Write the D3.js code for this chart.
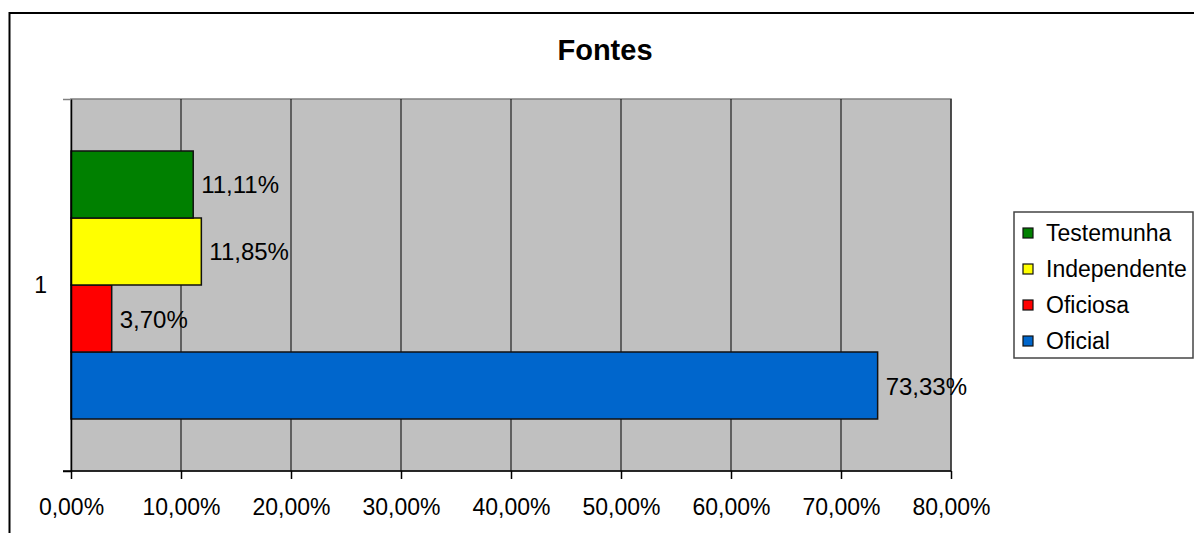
<!DOCTYPE html>
<html>
<head>
<meta charset="utf-8">
<script src="https://cdn.jsdelivr.net/npm/d3@7"></script>
<style>
  html, body { margin: 0; padding: 0; background: #fff; }
  svg { display: block; font-family: "Liberation Sans", Arial, sans-serif; }
</style>
</head>
<body>
<svg id="chart" width="1194" height="533"></svg>
<script>
// ---- data ----
const title = "Fontes";
const categories = ["1"];
const seriesNames = ["Oficial", "Oficiosa", "Independente", "Testemunha"];
const seriesValues = [0.7333, 0.0370, 0.1185, 0.1111];
const seriesColors = ["#0066CC", "#FF0000", "#FFFF00", "#008000"];
const xTicks = [0, 0.1, 0.2, 0.3, 0.4, 0.5, 0.6, 0.7, 0.8];

const locale = d3.formatLocale({decimal: ",", thousands: ".", grouping: [3], currency: ["", ""]});
const fmt = locale.format(".2%");

const svg = d3.select("#chart");

// chart border
svg.append("rect").attr("x", 9.5).attr("y", 13).attr("width", 1250).attr("height", 600)
  .attr("fill", "#fff").attr("stroke", "#000").attr("stroke-width", 2);

const plot = {left: 71, right: 951, top: 99, bottom: 471};

const x = d3.scaleLinear().domain([0, 0.8]).range([plot.left, plot.right]);
const y = d3.scaleBand().domain(categories).range([plot.top, plot.bottom]).paddingInner(0).paddingOuter(0.194);
// series within category: first series at bottom
const ys = d3.scaleBand().domain(seriesNames.slice().reverse()).range([0, y.bandwidth()]).padding(0);

// plot area
svg.append("rect").attr("x", plot.left).attr("y", plot.top)
  .attr("width", plot.right - plot.left).attr("height", plot.bottom - plot.top)
  .attr("fill", "#C0C0C0").attr("stroke", "#808080").attr("stroke-width", 1.5);

// gridlines
svg.append("g").selectAll("line").data(xTicks.filter(t => t > 0)).join("line")
  .attr("x1", d => x(d)).attr("x2", d => x(d))
  .attr("y1", plot.top).attr("y2", plot.bottom)
  .attr("stroke", "#000").attr("stroke-width", 1);

// bars
const cat = categories[0];
svg.append("g").selectAll("rect").data(seriesNames).join("rect")
  .attr("x", x(0))
  .attr("y", d => y(cat) + ys(d))
  .attr("width", (d, i) => x(seriesValues[i]) - x(0))
  .attr("height", ys.bandwidth())
  .attr("fill", (d, i) => seriesColors[i])
  .attr("stroke", "#111").attr("stroke-width", 1.5);

// value labels
svg.append("g").selectAll("text").data(seriesNames).join("text")
  .attr("x", (d, i) => x(seriesValues[i]) + 8)
  .attr("y", d => y(cat) + ys(d) + ys.bandwidth() / 2 + 9)
  .attr("font-size", 24).attr("fill", "#000")
  .text((d, i) => fmt(seriesValues[i]));

// x axis
const xAxis = d3.axisBottom(x).tickValues(xTicks).tickFormat(fmt).tickSize(8).tickPadding(20);
const gx = svg.append("g").attr("transform", `translate(0,${plot.bottom})`).call(xAxis);
gx.select(".domain").attr("stroke", "#000").attr("stroke-width", 1.5).attr("d", `M${plot.left - 8},0H${plot.right}`);
gx.selectAll(".tick line").attr("stroke", "#000").attr("stroke-width", 1.5);
gx.selectAll(".tick text").attr("font-size", 23).attr("font-family", "Liberation Sans, Arial, sans-serif").attr("fill", "#000");

// y axis
const yAxisScale = d3.scaleLinear().domain([0, 1]).range([plot.bottom, plot.top]);
const gy = svg.append("g").attr("transform", `translate(${plot.left},0)`)
  .call(d3.axisLeft(yAxisScale).tickValues([0, 1]).tickFormat("").tickSize(8).tickSizeOuter(0));
gy.select(".domain").attr("stroke", "#000").attr("stroke-width", 1.5);
gy.selectAll(".tick line").attr("stroke", "#000").attr("stroke-width", 1.5);
gy.selectAll(".tick").filter(d => d === 1).select("line").attr("stroke", "#808080");

svg.append("text").attr("x", 47).attr("y", y(cat) + y.bandwidth() / 2 + 8)
  .attr("text-anchor", "end").attr("font-size", 23).attr("fill", "#000").text(cat);

// title
svg.append("text").attr("x", 605).attr("y", 60).attr("text-anchor", "middle")
  .attr("font-size", 29).attr("font-weight", "bold").attr("fill", "#000").text(title);

// legend
const legend = svg.append("g");
legend.append("rect").attr("x", 1014).attr("y", 212).attr("width", 179).attr("height", 146)
  .attr("fill", "#fff").attr("stroke", "#444").attr("stroke-width", 1.5);
const legendOrder = seriesNames.slice().reverse();
const legendColors = seriesColors.slice().reverse();
const items = legend.selectAll("g.item").data(legendOrder).join("g").attr("class", "item")
  .attr("transform", (d, i) => `translate(0,${233 + i * 36})`);
items.append("rect").attr("x", 1023).attr("y", -5).attr("width", 10).attr("height", 10)
  .attr("fill", (d, i) => legendColors[i]).attr("stroke", "#111").attr("stroke-width", 1.2);
items.append("text").attr("x", 1046).attr("y", 8).attr("font-size", 23).attr("fill", "#000").text(d => d);
</script>
</body>
</html>
